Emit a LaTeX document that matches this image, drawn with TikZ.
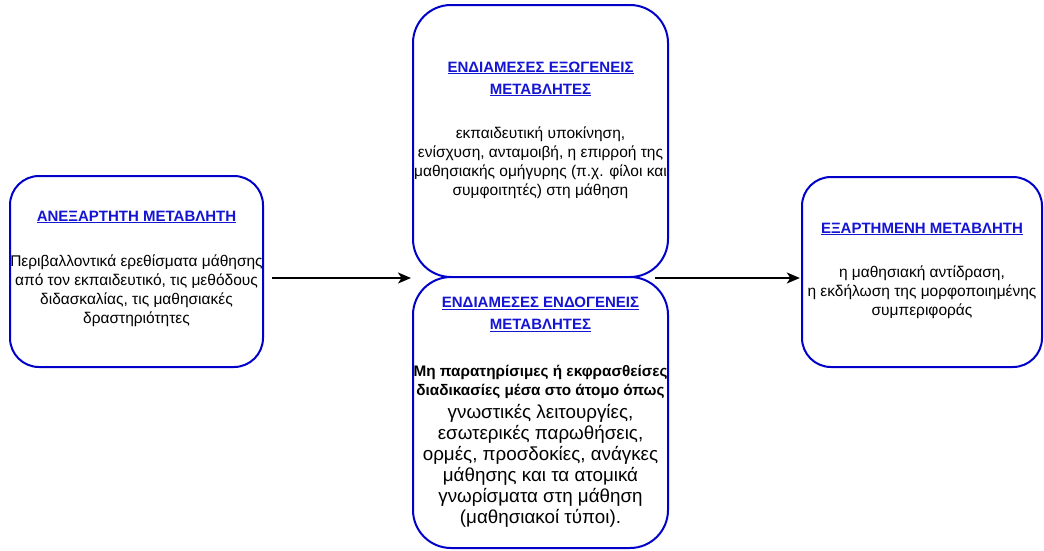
\documentclass[tikz,border=0pt]{standalone}
\usepackage{fontspec}
\setmainfont{Liberation Sans}
\usetikzlibrary{arrows.meta}
\definecolor{boxblue}{HTML}{0000C8}
\definecolor{titleblue}{HTML}{1414D2}
\tikzset{
  varbox/.style={draw=boxblue, line width=2pt, fill=white},
  headtext/.style={font=\bfseries\fontsize{15}{22}\selectfont, text=titleblue, align=center, inner sep=0pt},
  bodytext/.style={font=\fontsize{15.5}{19}\selectfont, align=center, inner sep=0pt},
  flow/.style={line width=1.8pt, -{Stealth[length=13pt, width=11pt, inset=3.5pt]}}
}
\newcommand{\ttl}[1]{\underline{#1}}
\begin{document}
\begin{tikzpicture}[x=1pt, y=-1pt]
  \useasboundingbox (0,0) rectangle (1044,550);

  % the four boxes
  \draw[varbox, rounded corners=29pt] (10,176) rectangle (263,367);
  \draw[varbox, rounded corners=38pt] (413,5) rectangle (668,277);
  \draw[varbox, rounded corners=38pt] (413,277) rectangle (668,548);
  \draw[varbox, rounded corners=29pt] (802,177) rectangle (1042,367);
  \node[minimum width=253pt, minimum height=191pt, inner sep=0pt] (indep) at (136.5,271.5) {};
  \node[minimum width=255pt, minimum height=272pt, inner sep=0pt] (exo) at (540.5,141) {};
  \node[minimum width=255pt, minimum height=271pt, inner sep=0pt] (endo) at (540.5,412.5) {};
  \node[minimum width=240pt, minimum height=190pt, inner sep=0pt] (dep) at (922,272) {};

  % independent variable
  \node[headtext] (indepT) at (136.5,217) {\ttl{ΑΝΕΞΑΡΤΗΤΗ ΜΕΤΑΒΛΗΤΗ}};
  \node[bodytext] (indepB) at (136.5,291) {Περιβαλλοντικά ερεθίσματα μάθησης\\
    από τον εκπαιδευτικό, τις μεθόδους\\ διδασκαλίας, τις μαθησιακές\\ δραστηριότητες};

  % exogenous intermediate variables
  \node[headtext] (exoT) at (540.5,79) {\ttl{ΕΝΔΙΑΜΕΣΕΣ ΕΞΩΓΕΝΕΙΣ}\\ \ttl{ΜΕΤΑΒΛΗΤΕΣ}};
  \node[bodytext] (exoB) at (540.5,163) {εκπαιδευτική υποκίνηση,\\
    ενίσχυση, ανταμοιβή, η επιρροή της\\ μαθησιακής ομήγυρης (π.χ. φίλοι και\\
    συμφοιτητές) στη μάθηση};

  % endogenous intermediate variables
  \node[headtext] (endoT) at (540.5,314.5) {\ttl{ΕΝΔΙΑΜΕΣΕΣ ΕΝΔΟΓΕΝΕΙΣ}\\ \ttl{ΜΕΤΑΒΛΗΤΕΣ}};
  \node[font=\bfseries\fontsize{15.3}{19}\selectfont, align=center, inner sep=0pt] (endoA) at (540.5,381.5)
    {Μη παρατηρίσιμες ή εκφρασθείσες\\ διαδικασίες μέσα στο άτομο όπως};
  \node[font=\fontsize{18.8}{21}\selectfont, align=center, inner sep=0pt] (endoB) at (540.5,466)
    {γνωστικές λειτουργίες,\\ εσωτερικές παρωθήσεις,\\ ορμές, προσδοκίες, ανάγκες\\
     μάθησης και τα ατομικά\\ γνωρίσματα στη μάθηση\\ (μαθησιακοί τύποι).};

  % dependent variable
  \node[headtext] (depT) at (922,229) {\ttl{ΕΞΑΡΤΗΜΕΝΗ ΜΕΤΑΒΛΗΤΗ}};
  \node[bodytext] (depB) at (922,292) {η μαθησιακή αντίδραση,\\
    η εκδήλωση της μορφοποιημένης\\ συμπεριφοράς};

  % connectors
  \coordinate (jl) at (411,278);
  \coordinate (jr) at (655,278);
  \draw[flow] ([xshift=9pt]indep.east |- jl) -- (jl);
  \draw[flow] (jr) -- ([xshift=-2pt]dep.west |- jr);
\end{tikzpicture}
\end{document}
